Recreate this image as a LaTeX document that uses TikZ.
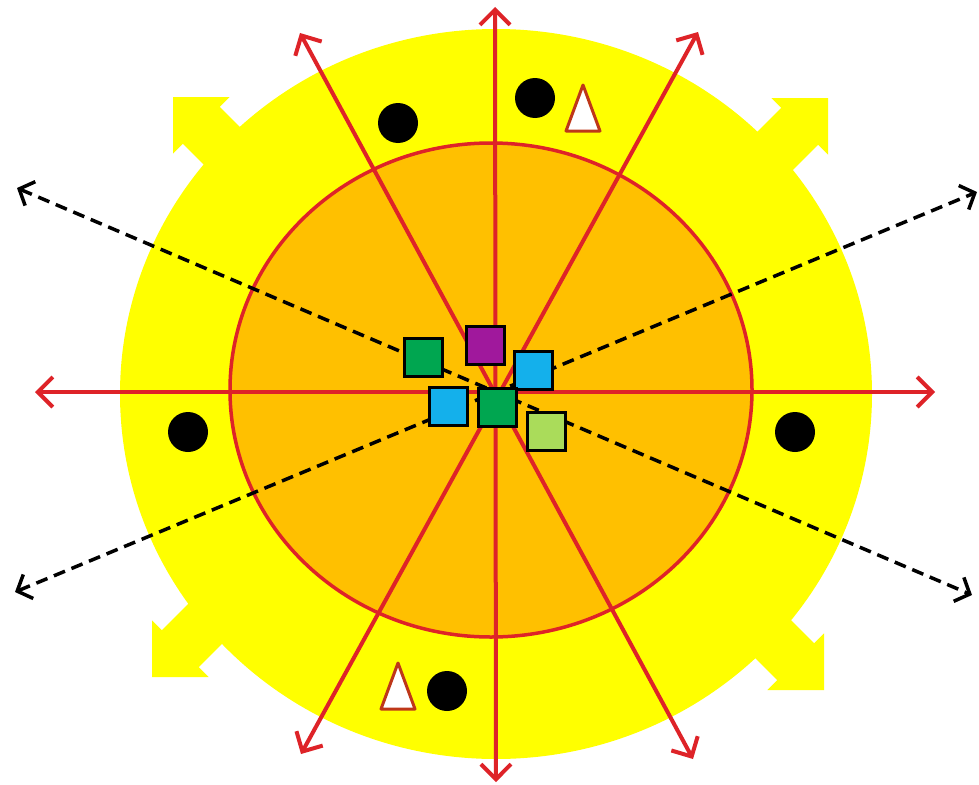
\documentclass[tikz,border=0pt]{standalone}
\usetikzlibrary{arrows.meta}
\definecolor{sunyellow}{RGB}{255,255,0}
\definecolor{coreorange}{RGB}{255,192,0}
\definecolor{rayred}{RGB}{222,35,40}
\definecolor{tribrown}{RGB}{190,55,25}
\definecolor{sqgreen}{RGB}{0,166,80}
\definecolor{sqpurple}{RGB}{160,24,156}
\definecolor{sqblue}{RGB}{20,176,235}
\definecolor{sqlime}{RGB}{170,220,90}
\tikzset{
	ray/.style={rayred, line width=4pt, {Straight Barb[length=15pt,width=30pt]}-{Straight Barb[length=15pt,width=30pt]}},
	flow/.style={black, line width=3.5pt, dash pattern=on 12pt off 7pt, {Straight Barb[length=12pt,width=26pt]}-{Straight Barb[length=12pt,width=26pt]}},
	tile/.style={draw=black, line width=3pt, minimum size=38pt, inner sep=0pt},
	dot/.style={circle, fill=black, minimum size=40pt, inner sep=0pt},
	tri/.style={draw=tribrown, fill=white, line width=3pt, line join=round},
}
\begin{document}
\begin{tikzpicture}[x=1pt, y=-1pt]
		\useasboundingbox (0,0) rectangle (979,784);
		\fill[white] (0,0) rectangle (979,784);
		% outer sun with its four thick arrows
		\fill[sunyellow] (496,394) ellipse[x radius=376, y radius=365];
		\foreach \tx/\ty/\a in {173/97/135, 828/98/45, 152/677/225, 824/690/315} {
				\fill[sunyellow, shift={(\tx,\ty)}, rotate=\a]
				(0pt,0pt) -- (-40pt,40pt) -- (-40pt,26pt) -- (-140pt,26pt)
				-- (-140pt,-26pt) -- (-40pt,-26pt) -- (-40pt,-40pt) -- cycle;
			}
		% inner core
		\draw[rayred, line width=3.5pt, fill=coreorange] (491,390) ellipse[x radius=261, y radius=247];
		% dots and triangles
		\foreach \px/\py [count=\i] in {398/123, 535/98, 188/432, 795/432, 447/691} {
				\node[dot] (dot\i) at (\px,\py) {};
			}
		\draw[tri] (583,85) -- (600,131) -- (566,131) -- cycle;
		\draw[tri] (398,663) -- (415,709) -- (381,709) -- cycle;
		% end points of the rays
		\coordinate (w) at (35,392);
		\coordinate (e) at (935,392);
		\coordinate (n) at (495,7);
		\coordinate (s) at (496,782);
		\coordinate (nw) at (300,33);
		\coordinate (se) at (693,759);
		\coordinate (ne) at (698,32);
		\coordinate (sw) at (301,754);
		\coordinate (fw) at (17,188);
		\coordinate (fe) at (972,595);
		\coordinate (gw) at (15,592);
		\coordinate (ge) at (977,192);
		\draw[ray] (w) -- (e);
		\draw[ray] (n) -- (s);
		\draw[ray] (nw) -- (se);
		\draw[ray] (ne) -- (sw);
		\draw[flow] (fw) -- (fe);
		\draw[flow] (gw) -- (ge);
		% cluster of squares at the centre
		\node[tile, fill=sqgreen] (green1) at (423,357) {};
		\node[tile, fill=sqpurple] (purple) at (485,345) {};
		\node[tile, fill=sqblue] (blue1) at (533,370) {};
		\node[tile, fill=sqblue] (blue2) at (448,406) {};
		\node[tile, fill=sqgreen] (green2) at (497,407) {};
		\node[tile, fill=sqlime] (lime) at (546,431) {};
	\end{tikzpicture}
\end{document}
